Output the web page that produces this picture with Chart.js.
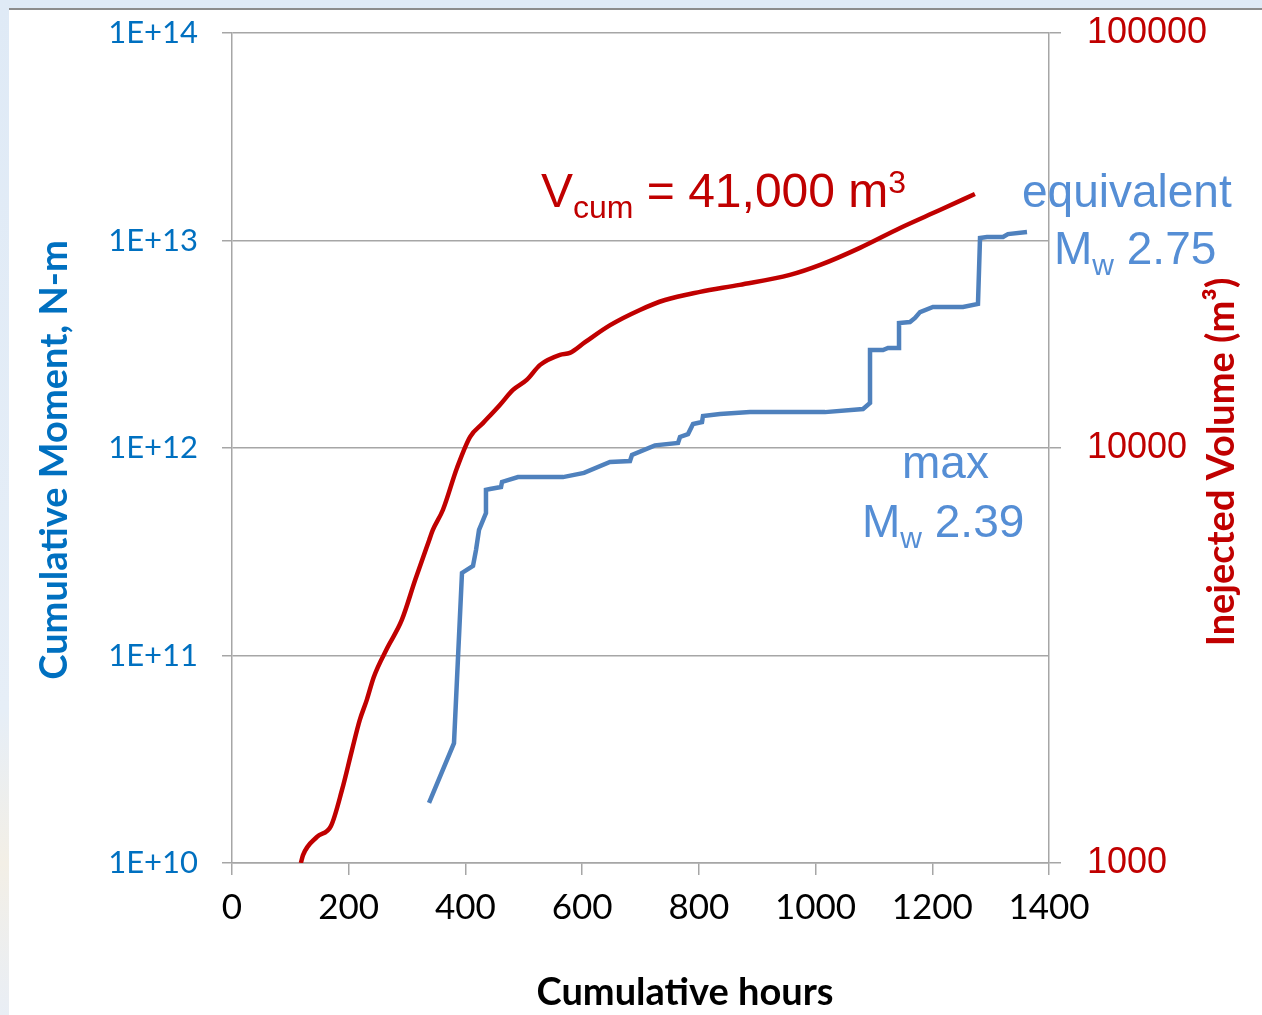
<!DOCTYPE html>
<html>
<head>
<meta charset="utf-8">
<script src="https://cdn.jsdelivr.net/npm/chart.js@4"></script>
<style>
    body {
        margin: 0;
        width: 1262px;
        height: 1015px;
        overflow: hidden;
        background: linear-gradient(180deg, #dfeaf6 0%, #e6eef7 70%, #f3efe6 85%, #e9eef5 100%);
    }
    .panel {
        position: absolute;
        left: 9px;
        top: 8px;
        right: 0;
        bottom: 0;
        background: #fff;
        border-top: 2px solid #8c8c8c;
    }
    #chart-container {
        position: absolute;
        left: 0;
        top: 0;
        width: 1262px;
        height: 1015px;
    }
</style>
</head>
<body>
<div class="panel"></div>
<div id="chart-container">
    <canvas id="moment-chart" width="1262" height="1015"></canvas>
</div>
<script>
// cumulative seismic moment (N-m) vs hours
const momentHours = [337.6, 380.4, 394.1, 413.0, 418.1, 423.3, 435.2, 435.2, 442.1, 461.0, 462.7, 490.1,
    567.2, 603.2, 647.7, 682.0, 685.4, 724.8, 764.3, 767.7, 781.4, 790.0, 805.4, 807.1, 836.2, 887.6,
    1016.2, 1081.3, 1093.3, 1093.3, 1115.6, 1124.1, 1143.0, 1143.0, 1161.8, 1170.4, 1179.0, 1201.2,
    1252.6, 1278.3, 1281.8, 1293.7, 1321.2, 1329.7, 1362.3]
const momentValues = [1.95e10, 3.78e10, 2.50e11, 2.70e11, 3.22e11, 4.03e11, 4.86e11, 6.28e11, 6.34e11, 6.49e11, 6.86e11, 7.24e11,
    7.24e11, 7.59e11, 8.57e11, 8.65e11, 9.25e11, 1.03e12, 1.057e12, 1.13e12, 1.167e12, 1.306e12, 1.334e12, 1.426e12, 1.459e12, 1.489e12,
    1.489e12, 1.542e12, 1.648e12, 2.965e12, 2.965e12, 3.034e12, 3.034e12, 4.0e12, 4.046e12, 4.236e12, 4.519e12, 4.786e12,
    4.786e12, 4.943e12, 1.028e13, 1.04e13, 1.04e13, 1.074e13, 1.099e13]

// injected volume (m3) vs hours
const volumeHours = [118, 121.7, 145.6, 169.6, 188.5, 205.6, 219, 231, 243, 266, 291, 314, 338, 344, 361.5,
    385.5, 408, 430, 459, 481.5, 505, 528, 562, 579, 605, 648, 699, 742, 802, 870, 956, 1008, 1076,
    1145, 1213, 1273]
const volumeValues = [1000, 1045, 1156, 1228, 1500, 1871, 2212, 2472, 2808, 3296, 3852, 4813, 6003, 6339, 7100,
    8950, 10640, 11480, 12700, 13800, 14590, 15860, 16770, 16950, 17990, 19770, 21510, 22730, 23780, 24720, 26130, 27620, 30360,
    33900, 37440, 40920]

const hourTicks = [0, 200, 400, 600, 800, 1000, 1200, 1400]
const momentTicks = [1e10, 1e11, 1e12, 1e13, 1e14]
const volumeTicks = [1000, 10000, 100000]

const blue = '#0070C0'
const lightBlue = '#558ED5'
const lineBlue = '#4F81BD'
const red = '#C00000'
const gridColor = '#A6A6A6'
const calibri = 'Lato, "Open Sans", sans-serif'
const arial = '"Liberation Sans", Arial, sans-serif'

function toPoints(xs, ys) {
    return xs.map((x, i) => ({ x: x, y: ys[i] }))
}

// draw a run of text pieces (normal / sub / sup) one after another
function drawRich(ctx, x, y, parts, color) {
    ctx.fillStyle = color
    ctx.textAlign = 'left'
    ctx.textBaseline = 'alphabetic'
    parts.forEach((p) => {
        ctx.font = p.size + 'px ' + arial
        ctx.fillText(p.t, x, y + (p.dy || 0))
        x += ctx.measureText(p.t).width
    })
}

// keep the plot box fixed: the vertical axes must not ask for room above/below
function fixVertical(width) {
    return (scale) => {
        scale.width = width
        scale.paddingTop = 0
        scale.paddingBottom = 0
    }
}

const labelsPlugin = {
    id: 'labels',
    afterDraw(chart) {
        const ctx = chart.ctx
        ctx.save()

        // axis titles
        ctx.font = 'bold 38px ' + calibri
        ctx.fillStyle = blue
        ctx.textAlign = 'center'
        ctx.textBaseline = 'middle'
        ctx.translate(55, 460)
        ctx.rotate(-Math.PI / 2)
        ctx.fillText('Cumulative Moment, N-m', 0, 0)
        ctx.setTransform(1, 0, 0, 1, 0, 0)

        ctx.fillStyle = red
        ctx.translate(1222, 462)
        ctx.rotate(-Math.PI / 2)
        ctx.fillText('Inejected Volume (m³)', 0, 0)
        ctx.setTransform(1, 0, 0, 1, 0, 0)

        ctx.fillStyle = '#000'
        ctx.fillText('Cumulative hours', 685, 993)

        // annotations
        drawRich(ctx, 541, 207, [
            { t: 'V', size: 48 },
            { t: 'cum', size: 32, dy: 11 },
            { t: ' = 41,000 m', size: 48 },
            { t: '3', size: 32, dy: -14 }
        ], red)

        drawRich(ctx, 1022, 207, [{ t: 'equivalent', size: 46 }], lightBlue)
        drawRich(ctx, 1054, 264, [
            { t: 'M', size: 46 },
            { t: 'w', size: 30, dy: 11 },
            { t: ' 2.75', size: 46 }
        ], lightBlue)

        drawRich(ctx, 902, 478, [{ t: 'max', size: 46 }], lightBlue)
        drawRich(ctx, 862, 537, [
            { t: 'M', size: 46 },
            { t: 'w', size: 30, dy: 11 },
            { t: ' 2.39', size: 46 }
        ], lightBlue)

        ctx.restore()
    }
}

window.addEventListener('load', (event) => {
    const chartCanvas = document.getElementById('moment-chart').getContext('2d')

    new Chart(chartCanvas, {
        type: 'line',
        data: {
            datasets: [{
                label: 'Cumulative Moment',
                data: toPoints(momentHours, momentValues),
                yAxisID: 'y',
                borderColor: lineBlue,
                borderWidth: 4.5,
                pointRadius: 0,
                tension: 0,
                fill: false
            }, {
                label: 'Injected Volume',
                data: toPoints(volumeHours, volumeValues),
                yAxisID: 'y1',
                borderColor: red,
                borderWidth: 4.5,
                pointRadius: 0,
                cubicInterpolationMode: 'monotone',
                fill: false
            }]
        },
        options: {
            responsive: false,
            animation: false,
            layout: { autoPadding: false, padding: { top: 33, left: 0, right: 0, bottom: 0 } },
            plugins: {
                legend: { display: false },
                tooltip: { enabled: false }
            },
            scales: {
                x: {
                    type: 'linear',
                    min: 0,
                    max: 1400,
                    afterBuildTicks: (scale) => { scale.ticks = hourTicks.map(v => ({ value: v })) },
                    afterFit: (scale) => { scale.height = 152 },
                    grid: { drawOnChartArea: false, color: gridColor, tickLength: 12, lineWidth: 1.5 },
                    border: { color: gridColor, width: 1.5 },
                    ticks: {
                        color: '#000',
                        font: { family: calibri, size: 35 },
                        padding: 12,
                        maxRotation: 0,
                        callback: (value) => String(value)
                    }
                },
                y: {
                    type: 'logarithmic',
                    position: 'left',
                    min: 1e10,
                    max: 1e14,
                    afterBuildTicks: (scale) => { scale.ticks = momentTicks.map(v => ({ value: v })) },
                    afterFit: fixVertical(232),
                    grid: { color: gridColor, tickLength: 10, lineWidth: 1.5 },
                    border: { color: gridColor, width: 1.5 },
                    ticks: {
                        color: blue,
                        font: { family: calibri, size: 31 },
                        padding: 24,
                        callback: (value) => '1E+' + Math.round(Math.log10(value))
                    }
                },
                y1: {
                    type: 'logarithmic',
                    position: 'right',
                    min: 1000,
                    max: 100000,
                    afterBuildTicks: (scale) => { scale.ticks = volumeTicks.map(v => ({ value: v })) },
                    afterFit: fixVertical(213),
                    grid: { drawOnChartArea: false, color: gridColor, tickLength: 12, lineWidth: 1.5 },
                    border: { color: gridColor, width: 1.5 },
                    ticks: {
                        color: red,
                        font: { family: arial, size: 36 },
                        padding: 26,
                        callback: (value) => String(value)
                    }
                }
            }
        },
        plugins: [labelsPlugin]
    })
})
</script>
</body>
</html>
